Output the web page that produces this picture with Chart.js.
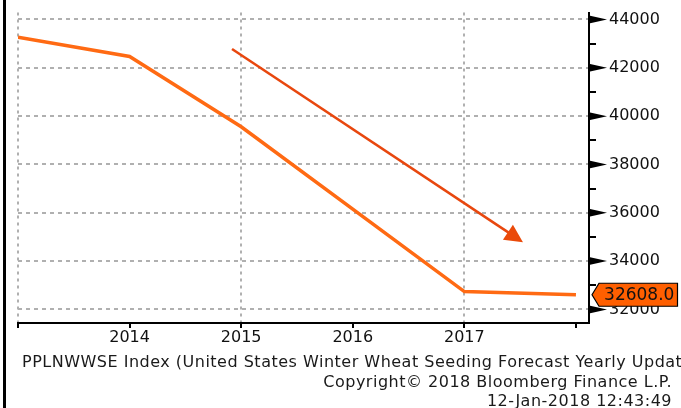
<!DOCTYPE html>
<html>
<head>
<meta charset="utf-8">
<script src="https://cdn.jsdelivr.net/npm/chart.js@4/dist/chart.umd.min.js"></script>
<style>
  html, body { margin: 0; padding: 0; background: #fff; width: 681px; height: 408px; overflow: hidden; position: relative; }
  #c { position: absolute; left: 0; top: 0; }
  .bar { position: absolute; left: 3px; top: 0; width: 3px; height: 408px; background: #000; }
  .foot { position: absolute; font-family: "DejaVu Sans", sans-serif; font-size: 16px; letter-spacing: 0.5px; line-height: 18px; color: #1a1a1a; white-space: nowrap; }
</style>
</head>
<body>
<canvas id="c" width="681" height="408"></canvas>
<div class="bar"></div>
<div class="foot" id="f1" style="left:22px; top:353px;"></div>
<div class="foot" id="f2" style="right:9px; top:373px;"></div>
<div class="foot" id="f3" style="right:9px; top:392px;"></div>
<script>
// ---- data ----
const years = [2013, 2014, 2015, 2016, 2017, 2018];
const seedings = [43270, 42470, 39560, 36150, 32740, 32608];
const xTickValues = [2013, 2014, 2015, 2016, 2017, 2018];
const xTickLabels = ['', '2014', '2015', '2016', '2017', ''];
const xGridYears = [2013, 2015, 2017];
const yTickValues = [32000, 34000, 36000, 38000, 40000, 42000, 44000];
const yMinorTicks = [33000, 35000, 37000, 39000, 41000, 43000];
const lastValue = 32608;
const lastValueLabel = '32608.0';
const arrowFrom = [2014.918, 42780];
const arrowTo = [2017.525, 34785];
const footerLines = [
  'PPLNWWSE Index (United States Winter Wheat Seeding Forecast Yearly Update',
  'Copyright\u00A9 2018 Bloomberg Finance L.P.',
  '12-Jan-2018 12:43:49'
];

document.getElementById('f1').textContent = footerLines[0];
document.getElementById('f2').textContent = footerLines[1];
document.getElementById('f3').textContent = footerLines[2];

const FONT = '"DejaVu Sans", sans-serif';

const decor = {
  id: 'decor',
  afterDatasetsDraw(chart) {
    const ctx = chart.ctx;
    const xs = chart.scales.x, ys = chart.scales.y;
    const ax = chart.chartArea.right;
    ctx.save();
    // major tick triangles
    ctx.fillStyle = '#000';
    yTickValues.forEach(v => {
      const y = ys.getPixelForValue(v);
      ctx.beginPath();
      ctx.moveTo(ax, y - 4);
      ctx.lineTo(ax + 18, y);
      ctx.lineTo(ax, y + 4);
      ctx.closePath();
      ctx.fill();
    });
    // minor ticks
    ctx.strokeStyle = '#000';
    ctx.lineWidth = 2;
    yMinorTicks.forEach(v => {
      const y = Math.round(ys.getPixelForValue(v));
      ctx.beginPath();
      ctx.moveTo(ax, y);
      ctx.lineTo(ax + 7, y);
      ctx.stroke();
    });
    // trend arrow
    const x1 = xs.getPixelForValue(arrowFrom[0]), y1 = ys.getPixelForValue(arrowFrom[1]);
    const x2 = xs.getPixelForValue(arrowTo[0]), y2 = ys.getPixelForValue(arrowTo[1]);
    const ang = Math.atan2(y2 - y1, x2 - x1);
    const hl = 18, hw = 9;
    const bx = x2 - hl * Math.cos(ang), by = y2 - hl * Math.sin(ang);
    ctx.strokeStyle = '#e8470e';
    ctx.fillStyle = '#ea4a0a';
    ctx.lineWidth = 2.5;
    ctx.beginPath();
    ctx.moveTo(x1, y1);
    ctx.lineTo(bx + 4 * Math.cos(ang), by + 4 * Math.sin(ang));
    ctx.stroke();
    ctx.beginPath();
    ctx.moveTo(x2, y2);
    ctx.lineTo(bx + hw * Math.sin(ang), by - hw * Math.cos(ang));
    ctx.lineTo(bx - hw * Math.sin(ang), by + hw * Math.cos(ang));
    ctx.closePath();
    ctx.fill();
    // last value tag
    const ly = ys.getPixelForValue(lastValue);
    const tipX = ax + 3, bodyX = ax + 10, rightX = 677.5, hh = 11.5;
    ctx.beginPath();
    ctx.moveTo(tipX, ly);
    ctx.lineTo(bodyX, ly - hh);
    ctx.lineTo(rightX, ly - hh);
    ctx.lineTo(rightX, ly + hh);
    ctx.lineTo(bodyX, ly + hh);
    ctx.closePath();
    ctx.fillStyle = '#ff5f00';
    ctx.fill();
    ctx.strokeStyle = '#000';
    ctx.lineWidth = 1.2;
    ctx.stroke();
    ctx.fillStyle = '#111';
    ctx.font = '17px ' + FONT;
    ctx.textAlign = 'center';
    ctx.textBaseline = 'middle';
    ctx.fillText(lastValueLabel, (bodyX + rightX) / 2 + 1, ly + 1);
    ctx.restore();
  }
};

new Chart(document.getElementById('c'), {
  type: 'line',
  data: {
    datasets: [{
      data: years.map((y, i) => ({ x: y, y: seedings[i] })),
      borderColor: '#ff6a13',
      borderWidth: 3.5,
      pointRadius: 0,
      tension: 0,
      fill: false
    }]
  },
  options: {
    responsive: false,
    animation: false,
    events: [],
    layout: { padding: { left: 18, top: 7, right: 0, bottom: 0 } },
    plugins: { legend: { display: false }, tooltip: { enabled: false } },
    scales: {
      x: {
        type: 'linear',
        min: 2013,
        max: 2018.117,
        afterBuildTicks: s => { s.ticks = xTickValues.map(v => ({ value: v })); },
        afterFit: s => { s.height = 85; },
        ticks: {
          callback: (v, i) => xTickLabels[i],
          autoSkip: false,
          maxRotation: 0,
          font: { family: FONT, size: 16 },
          color: '#111',
          padding: 0
        },
        grid: {
          color: c => (c.tick && xGridYears.includes(c.tick.value)) ? '#b0b0b0' : 'rgba(0,0,0,0)',
          lineWidth: 2,
          tickColor: '#000',
          tickWidth: 2,
          tickLength: 5,
          tickBorderDash: []
        },
        border: { display: true, color: '#000', width: 2, dash: [3, 4] }
      },
      y: {
        position: 'right',
        min: 31439,
        max: 44285,
        afterBuildTicks: s => { s.ticks = yTickValues.map(v => ({ value: v })); },
        afterFit: s => { s.width = 92; },
        ticks: {
          callback: v => String(v),
          font: { family: FONT, size: 16 },
          color: '#111',
          padding: 3
        },
        grid: {
          color: '#b0b0b0',
          lineWidth: 2,
          tickColor: 'rgba(0,0,0,0)',
          tickLength: 17
        },
        border: { display: true, color: '#000', width: 2, dash: [4, 4] }
      }
    }
  },
  plugins: [decor]
});
</script>
</body>
</html>
